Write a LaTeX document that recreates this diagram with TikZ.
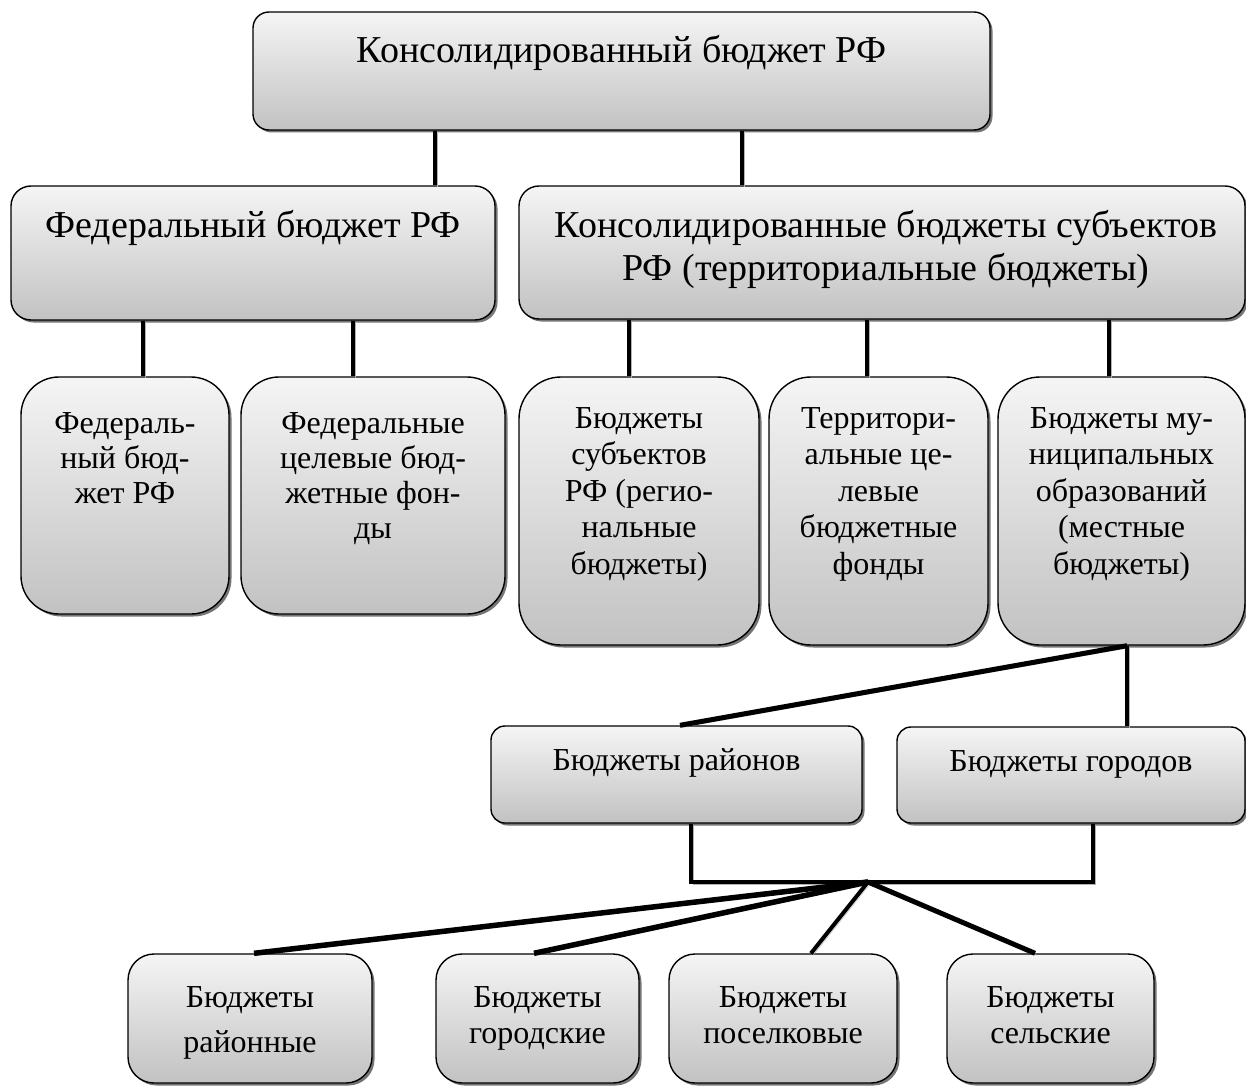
\documentclass[tikz,border=0pt]{standalone}
\usepackage{fontspec}
\setmainfont{Liberation Serif}
\usetikzlibrary{shadows}
\newcommand{\mlbox}[2][400pt]{\parbox[t]{#1}{\centering #2}}
\tikzset{
  box/.style={draw=black, line width=1.4pt, rectangle, inner sep=0pt,
    top color=gray!8, bottom color=gray!48,
    drop shadow={shadow xshift=2.5pt, shadow yshift=-2.5pt, fill=black!60, opacity=.9}},
  conn/.style={draw=black, line width=4.5pt,
    preaction={draw=gray!60, transform canvas={xshift=2pt, yshift=-2pt}}},
  bigtxt/.style={font=\fontsize{38}{43}\selectfont, inner sep=0pt, anchor=base},
  midtxt/.style={font=\fontsize{32}{36.5}\selectfont, inner sep=0pt, anchor=base},
}
\begin{document}
\begin{tikzpicture}[x=1pt, y=-1pt]
\useasboundingbox (0,0) rectangle (1246,1086);

% boxes
\node[box, rounded corners=16pt, minimum width=737pt, minimum height=118pt] (top) at (621.5,71) {};
\node[box, rounded corners=20pt, minimum width=484pt, minimum height=134pt] (fed) at (253,253) {};
\node[box, rounded corners=20pt, minimum width=726pt, minimum height=133pt] (cons) at (882,252.5) {};
\node[box, rounded corners=38pt, minimum width=208pt, minimum height=237pt] (f1) at (125,495.5) {};
\node[box, rounded corners=38pt, minimum width=264pt, minimum height=237pt] (f2) at (373,495.5) {};
\node[box, rounded corners=42pt, minimum width=240pt, minimum height=268pt] (s1) at (639,511) {};
\node[box, rounded corners=42pt, minimum width=219pt, minimum height=268pt] (s2) at (878.5,511) {};
\node[box, rounded corners=42pt, minimum width=247pt, minimum height=268pt] (s3) at (1121.5,511) {};
\node[box, rounded corners=14pt, minimum width=371pt, minimum height=97pt] (rai) at (676.5,774.5) {};
\node[box, rounded corners=14pt, minimum width=348pt, minimum height=96pt] (gor) at (1071,775) {};
\node[box, rounded corners=26pt, minimum width=244pt, minimum height=129pt] (b1) at (250,1018.5) {};
\node[box, rounded corners=26pt, minimum width=203pt, minimum height=129pt] (b2) at (537.5,1018.5) {};
\node[box, rounded corners=26pt, minimum width=228pt, minimum height=129pt] (b3) at (783,1018.5) {};
\node[box, rounded corners=26pt, minimum width=207pt, minimum height=129pt] (b4) at (1050.5,1018.5) {};

% texts
\node[bigtxt] (ttop) at (621.5,63) {Консолидированный бюджет РФ};
\node[bigtxt] (tfed) at (253,237) {Федеральный бюджет РФ};
\node[bigtxt] (tcons) at (886,237) {\mlbox[760pt]{Консолидированные бюджеты субъектов\\РФ (территориальные бюджеты)}};
\node[midtxt, font=\fontsize{32}{35}\selectfont] (tf1) at (125,433) {\mlbox{Федераль-\\ный бюд-\\жет РФ}};
\node[midtxt, font=\fontsize{32}{35}\selectfont] (tf2) at (373,433) {\mlbox{Федеральные\\целевые бюд-\\жетные фон-\\ды}};
\node[midtxt] (ts1) at (639,428) {\mlbox{Бюджеты\\субъектов\\РФ (регио-\\нальные\\бюджеты)}};
\node[midtxt] (ts2) at (878.5,428) {\mlbox{Территори-\\альные це-\\левые\\бюджетные\\фонды}};
\node[midtxt] (ts3) at (1121.5,428) {\mlbox{Бюджеты му-\\ниципальных\\образований\\(местные\\бюджеты)}};
\node[midtxt] (trai) at (676.5,770) {Бюджеты районов};
\node[midtxt] (tgor) at (1071,771) {Бюджеты городов};
\node[midtxt, font=\fontsize{32}{45}\selectfont] (tb1) at (250,1007) {\mlbox{Бюджеты\\районные}};
\node[midtxt] (tb2) at (537.5,1007) {\mlbox{Бюджеты\\городские}};
\node[midtxt] (tb3) at (783,1007) {\mlbox{Бюджеты\\поселковые}};
\node[midtxt] (tb4) at (1050.5,1007) {\mlbox{Бюджеты\\сельские}};

% connector positions
\coordinate (xa) at (435,0);
\coordinate (xb) at (742,0);
\coordinate (xc) at (143,0);
\coordinate (xd) at (353,0);
\coordinate (xe) at (629,0);
\coordinate (xf) at (867,0);
\coordinate (xg) at (1109,0);
\coordinate (xm) at (1127,0);
\coordinate (xr) at (680,0);
\coordinate (xl) at (691,0);
\coordinate (xq) at (1093,0);
\coordinate (fan) at (868,882);
\coordinate (e1) at (254,0);
\coordinate (e2) at (534,0);
\coordinate (e3) at (811,0);
\coordinate (e4) at (1035,0);

% connectors
\draw[conn] (top.south -| xa) -- (fed.north -| xa);
\draw[conn] (top.south -| xb) -- (cons.north -| xb);
\draw[conn] (fed.south -| xc) -- (f1.north -| xc);
\draw[conn] (fed.south -| xd) -- (f2.north -| xd);
\draw[conn] (cons.south -| xe) -- (s1.north -| xe);
\draw[conn] (cons.south -| xf) -- (s2.north -| xf);
\draw[conn] (cons.south -| xg) -- (s3.north -| xg);
\draw[conn, line width=5pt] (s3.south -| xm) -- (rai.north -| xr);
\draw[conn, line width=3.5pt] (s3.south -| xm) -- (gor.north -| xm);
\draw[conn] (rai.south -| xl) -- (xl |- fan) -- (xq |- fan) -- (gor.south -| xq);
\draw[conn, line width=5.5pt] (fan) -- (b1.north -| e1);
\draw[conn, line width=5.5pt] (fan) -- (b2.north -| e2);
\draw[conn, line width=4pt] (fan) -- (b3.north -| e3);
\draw[conn, line width=5pt] (fan) -- (b4.north -| e4);
\end{tikzpicture}
\end{document}
